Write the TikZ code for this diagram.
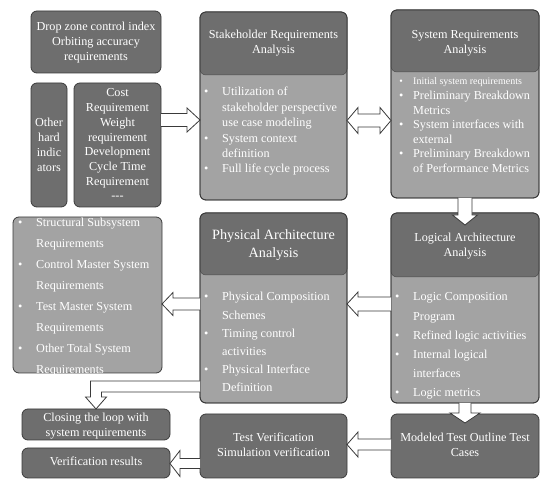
\documentclass[tikz,border=0pt]{standalone}
\usepackage{fontspec}
\setmainfont{Liberation Serif}
\usetikzlibrary{calc}
\definecolor{hdr}{HTML}{6E6E6E}
\definecolor{bdy}{HTML}{A3A3A3}
\definecolor{edge}{HTML}{3A3A3A}
\newlength\bof
\newcommand\bu{\leavevmode\llap{\makebox[0pt]{\textbullet}\hspace{\bof}}}
\newcommand\fs[2]{\fontsize{#1}{#2}\selectfont}
\newcommand\ctext[2]{\parbox[t]{#1}{\centering #2}}
\newcommand\ltext[3]{\setlength\bof{#2}\parbox[t]{#1}{\raggedright #3}}
% horizontal hollow block arrow: from, to, shaft half, head half, head length
\newcommand\harrow[5]{\draw[barrow] let \p1=(#1), \p2=(#2), \n1={ifthenelse(\x2>\x1,1,-1)} in
  ({\x1},{\y1+#3}) -- ({\x2-\n1*#5},{\y1+#3}) -- ({\x2-\n1*#5},{\y1+#4}) -- ({\x2},{\y1})
  -- ({\x2-\n1*#5},{\y1-#4}) -- ({\x2-\n1*#5},{\y1-#3}) -- ({\x1},{\y1-#3});}
% vertical hollow block arrow
\newcommand\varrow[5]{\draw[barrow] let \p1=(#1), \p2=(#2), \n1={ifthenelse(\y2>\y1,1,-1)} in
  ({\x1+#3},{\y1}) -- ({\x1+#3},{\y2-\n1*#5}) -- ({\x1+#4},{\y2-\n1*#5}) -- ({\x1},{\y2})
  -- ({\x1-#4},{\y2-\n1*#5}) -- ({\x1-#3},{\y2-\n1*#5}) -- ({\x1-#3},{\y1});}
\begin{document}
\begin{tikzpicture}[x=1pt,y=-1pt,
  box/.style={draw=edge,line width=0.8pt,rounded corners=6pt,inner sep=0pt,outer sep=0pt,anchor=north west},
  dark/.style={box,fill=hdr},
  light/.style={box,fill=bdy},
  head/.style={box,fill=hdr,draw=hdr!70!black,line width=0.5pt},
  outl/.style={draw=edge,line width=0.8pt,rounded corners=6pt},
  txt/.style={text=white,inner sep=0pt,anchor=base},
  ltxt/.style={text=white,inner sep=0pt,anchor=base west},
  barrow/.style={draw=edge,fill=white,line width=0.8pt,line join=miter}]
\useasboundingbox (0,0) rectangle (550,484);

% ---- boxes ----
\node[dark, minimum width=130pt, minimum height=62pt] (drop) at (31,11) {};
\node[dark, minimum width=36pt, minimum height=124pt] (other) at (31,83) {};
\node[dark, minimum width=87pt, minimum height=124pt] (cost) at (74,83) {};

\node[light, minimum width=147pt, minimum height=188pt] (stake) at (200,12) {};
\node[head, minimum width=147pt, minimum height=63pt] (stakeH) at (200,12) {};
\draw[outl] (stake.north west) rectangle (stake.south east);

\node[light, minimum width=148pt, minimum height=188pt] (sys) at (391,10) {};
\node[head, minimum width=148pt, minimum height=62pt] (sysH) at (391,10) {};
\draw[outl] (sys.north west) rectangle (sys.south east);

\node[light, minimum width=148pt, minimum height=190pt] (logic) at (391,213) {};
\node[head, minimum width=148pt, minimum height=64pt] (logicH) at (391,213) {};
\draw[outl] (logic.north west) rectangle (logic.south east);

\node[light, minimum width=147pt, minimum height=190pt] (phys) at (200,213) {};
\node[head, minimum width=147pt, minimum height=62pt] (physH) at (200,213) {};
\draw[outl] (phys.north west) rectangle (phys.south east);

\node[light, minimum width=149pt, minimum height=156pt] (list) at (13,217) {};

\node[dark, minimum width=148pt, minimum height=31pt] (close) at (22,409) {};
\node[dark, minimum width=148pt, minimum height=30pt] (verif) at (22,448) {};
\node[dark, minimum width=147pt, minimum height=64pt] (test) at (200,414) {};
\node[dark, minimum width=148pt, minimum height=64pt] (model) at (391,414) {};

% ---- texts ----
\node[txt] (dropT) at (96,31) {\fs{12.2}{15}\ctext{128pt}{Drop zone control index\\Orbiting accuracy\\requirements}};
\node[txt] (otherT) at (49,127) {\fs{12.2}{14.7}\ctext{36pt}{Other\\hard\\indic\\ators}};
\node[txt] (costT) at (117.5,97) {\fs{12.2}{14.7}\ctext{87pt}{Cost\\Requirement\\Weight\\requirement\\Development\\Cycle Time\\Requirement\\-{}-{}-}};

\node[txt] (stakeT) at (273.5,39) {\fs{12.2}{15}\ctext{140pt}{Stakeholder Requirements\\Analysis}};
\node[ltxt] (stakeB) at (222,96) {\fs{12.2}{15.4}\ltext{124pt}{16pt}{\bu Utilization of\\stakeholder perspective\\use case modeling\\\bu System context\\definition\\\bu Full life cycle process}};

\node[txt] (sysT) at (465,39) {\fs{12.2}{15}\ctext{140pt}{System Requirements\\Analysis}};
\node[ltxt] (sysB) at (413,85) {\ltext{126pt}{12pt}{\fs{10}{14.6}\bu Initial system requirements\par\fs{12.2}{14.6}\bu Preliminary Breakdown\\Metrics\\\bu System interfaces with\\external\\\bu Preliminary Breakdown\\of Performance Metrics}};

\node[txt] (logicT) at (465,242) {\fs{12.2}{15}\ctext{140pt}{Logical Architecture\\Analysis}};
\node[ltxt] (logicB) at (413,301) {\fs{12.2}{19.2}\ltext{124pt}{16pt}{\bu Logic Composition\\Program\\\bu Refined logic activities\\\bu Internal logical\\interfaces\\\bu Logic metrics}};

\node[txt] (physT) at (273.5,239.5) {\fs{14.2}{18}\ctext{140pt}{Physical Architecture\\Analysis}};
\node[ltxt] (physB) at (222,301) {\fs{12.2}{18.2}\ltext{124pt}{16pt}{\bu Physical Composition\\Schemes\\\bu Timing control\\activities\\\bu Physical Interface\\Definition}};

\node[ltxt] (listB) at (36,227) {\fs{12.2}{21}\ltext{124pt}{16pt}{\bu Structural Subsystem\\Requirements\\\bu Control Master System\\Requirements\\\bu Test Master System\\Requirements\\\bu Other Total System\\Requirements}};

\node[txt] (closeT) at (96,421) {\fs{12.2}{15}\ctext{146pt}{Closing the loop with\\system requirements}};
\node[txt] (verifT) at (96,466) {\fs{12.2}{15}\ctext{146pt}{Verification results}};
\node[txt] (testT) at (273.5,442) {\fs{12.2}{15}\ctext{145pt}{Test Verification\\Simulation verification}};
\node[txt] (modelT) at (465,442) {\fs{12.2}{15}\ctext{146pt}{Modeled Test Outline Test\\Cases}};

% ---- block arrows ----
\harrow{cost.east |- 0,120}{stake.west |- 0,120}{6.5pt}{12pt}{13pt}
\draw[barrow] let \p1=(stake.east |- 0,120.5), \p2=(sys.west |- 0,120.5) in
  ({\x1},{\y1}) -- ({\x1+11pt},{\y1+13pt}) -- ({\x1+11pt},{\y1+6.5pt}) -- ({\x2-11pt},{\y1+6.5pt})
  -- ({\x2-11pt},{\y1+13pt}) -- ({\x2},{\y1}) -- ({\x2-11pt},{\y1-13pt}) -- ({\x2-11pt},{\y1-6.5pt})
  -- ({\x1+11pt},{\y1-6.5pt}) -- ({\x1+11pt},{\y1-13pt}) -- cycle;
\varrow{sys.south}{$(logic.north)+(0,12)$}{7pt}{12.5pt}{10pt}
\harrow{logic.west |- 0,304}{phys.east |- 0,304}{7pt}{12pt}{11pt}
\harrow{phys.west |- 0,304}{list.east |- 0,304}{6pt}{11.5pt}{11pt}
\coordinate (lpA) at ($(close.north)+(0,-28)$);
\coordinate (lpB) at ($(close.north)+(0,-17)$);
\draw[barrow] (phys.west |- lpA) -- ($(close.north)+(-5.5,-28)$)
  -- ($(close.north)+(-5.5,-12)$) -- ($(close.north)+(-10.5,-12)$) -- (close.north)
  -- ($(close.north)+(10.5,-12)$) -- ($(close.north)+(5.5,-12)$) -- ($(close.north)+(5.5,-17)$)
  -- (phys.west |- lpB);
\varrow{logic.south}{$(model.north)+(0,9)$}{6pt}{15pt}{10pt}
\harrow{model.west |- 0,444.5}{test.east |- 0,444.5}{5.5pt}{12.5pt}{11pt}
\harrow{test.west |- 0,463.5}{verif.east |- 0,463.5}{5pt}{13pt}{10pt}
\end{tikzpicture}
\end{document}
